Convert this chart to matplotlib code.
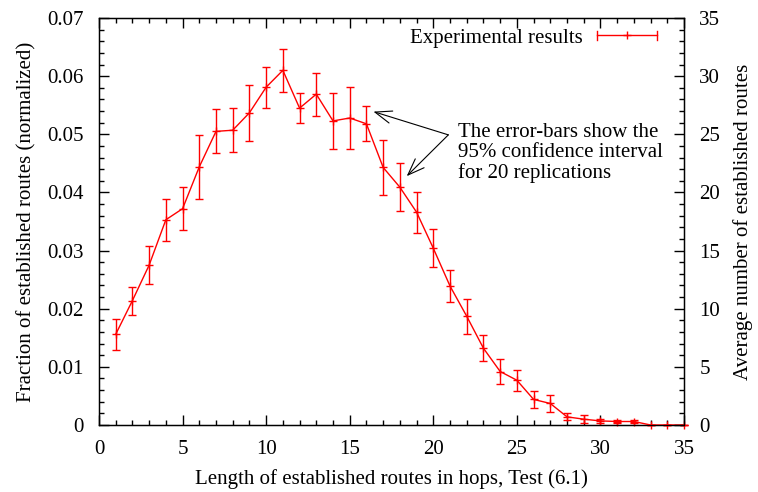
import numpy as np
import matplotlib
matplotlib.use("Agg")
import matplotlib.pyplot as plt
from matplotlib.lines import Line2D
from matplotlib.legend_handler import HandlerBase
from matplotlib.ticker import MultipleLocator

plt.rcParams['font.family'] = ['Liberation Serif', 'DejaVu Serif']
plt.rcParams['font.size'] = 15

# data
hops = np.arange(1, 36)
frac = [0.0156, 0.0214, 0.0275, 0.0353, 0.0372, 0.0444, 0.0505, 0.0507, 0.0537,
        0.0581, 0.0610, 0.0545, 0.0569, 0.0523, 0.0528, 0.0518, 0.0443, 0.0409,
        0.0366, 0.0304, 0.0239, 0.0187, 0.0132, 0.0092, 0.0077, 0.0044, 0.0037,
        0.0014, 0.0010, 0.0007, 0.0006, 0.0006, 0.0, 0.0, 0.0]
err = [0.0027, 0.0024, 0.0033, 0.0036, 0.0037, 0.0055, 0.0038, 0.0038, 0.0048,
       0.0035, 0.0037, 0.0026, 0.0037, 0.0048, 0.0053, 0.0030, 0.0047, 0.0041,
       0.0035, 0.0033, 0.0028, 0.0030, 0.0022, 0.0021, 0.0018, 0.0014, 0.0015,
       0.0006, 0.0007, 0.0004, 0.0003, 0.0003, 0.0, 0.0, 0.0]

note_text = "The error-bars show the\n95% confidence interval\nfor 20 replications"
note_pos = (21.45, 0.0519)
arrow_tail = (20.9, 0.0499)
arrow_heads = [(16.42, 0.0539), (18.41, 0.0428)]

RED = '#ff0000'


class GnuplotErrHandler(HandlerBase):
    # horizontal sample with end caps and a plus in the middle, like gnuplot
    def create_artists(self, legend, orig_handle, xdescent, ydescent,
                       width, height, fontsize, trans):
        y = height / 2 - ydescent
        x0, x1 = -xdescent, width - xdescent
        h = 3
        arts = [
            Line2D([x0, x1], [y, y], color=RED, lw=1),
            Line2D([x0, x0], [y - h, y + h], color=RED, lw=1),
            Line2D([x1, x1], [y - h, y + h], color=RED, lw=1),
            Line2D([(x0 + x1) / 2], [y], color=RED, marker='+', ms=6, mew=1, ls='none'),
        ]
        for a in arts:
            a.set_transform(trans)
        return arts


fig = plt.figure(figsize=(7.58, 4.92), dpi=100)
ax = fig.add_axes([0.1306, 0.1362, 0.9024 - 0.1306, 0.9634 - 0.1362])

eb = ax.errorbar(hops, frac, yerr=err, color=RED, lw=1, elinewidth=1,
                 capsize=3, capthick=1, marker='+', ms=6, mew=1,
                 clip_on=False, zorder=3)
for art in eb.lines[1] + eb.lines[0:1]:
    art.set_clip_on(False)

ax.set_xlim(0, 35)
ax.set_ylim(0, 0.07)
ax.xaxis.set_major_locator(MultipleLocator(5))
ax.xaxis.set_minor_locator(MultipleLocator(1))
ax.yaxis.set_major_locator(MultipleLocator(0.01))
ax.yaxis.set_minor_locator(MultipleLocator(0.002))
ax.yaxis.set_major_formatter(plt.FuncFormatter(lambda v, p: '0' if v == 0 else f'{v:.2f}'))
ax.tick_params(which='both', direction='in', top=True, right=False, width=1)
ax.tick_params(which='major', length=7)
ax.tick_params(which='minor', length=3.5)
ax.tick_params(axis='y', pad=11)
ax.tick_params(axis='x', pad=11)
for s in ax.spines.values():
    s.set_linewidth(1)

ax.set_xlabel("Length of established routes in hops, Test (6.1)", labelpad=7)
ax.set_ylabel("Fraction of established routes (normalized)", labelpad=8)

ax2 = ax.twinx()
ax2.set_ylim(0, 35)
ax2.yaxis.set_major_locator(MultipleLocator(5))
ax2.yaxis.set_minor_locator(MultipleLocator(1))
ax2.tick_params(which='both', direction='in', width=1, pad=11)
ax2.tick_params(which='major', length=7)
ax2.tick_params(which='minor', length=3.5)
ax2.set_ylabel("Average number of established routes", labelpad=9)

ax.text(note_pos[0], note_pos[1], note_text, ha='left', va='top', linespacing=1.05)
for head in arrow_heads:
    ax.annotate('', xy=head, xytext=arrow_tail,
                arrowprops=dict(arrowstyle='->,head_length=0.8,head_width=0.3',
                                color='black', lw=0.8, shrinkA=0, shrinkB=0))

handle = Line2D([], [], color=RED)
ax.legend([handle], ["Experimental results"], handler_map={Line2D: GnuplotErrHandler()},
          loc='upper right', bbox_to_anchor=(0.954, 0.975), frameon=False,
          markerfirst=False, handlelength=2.9, handletextpad=0.67,
          borderpad=0, borderaxespad=0)

fig.savefig("out.png", dpi=100)
